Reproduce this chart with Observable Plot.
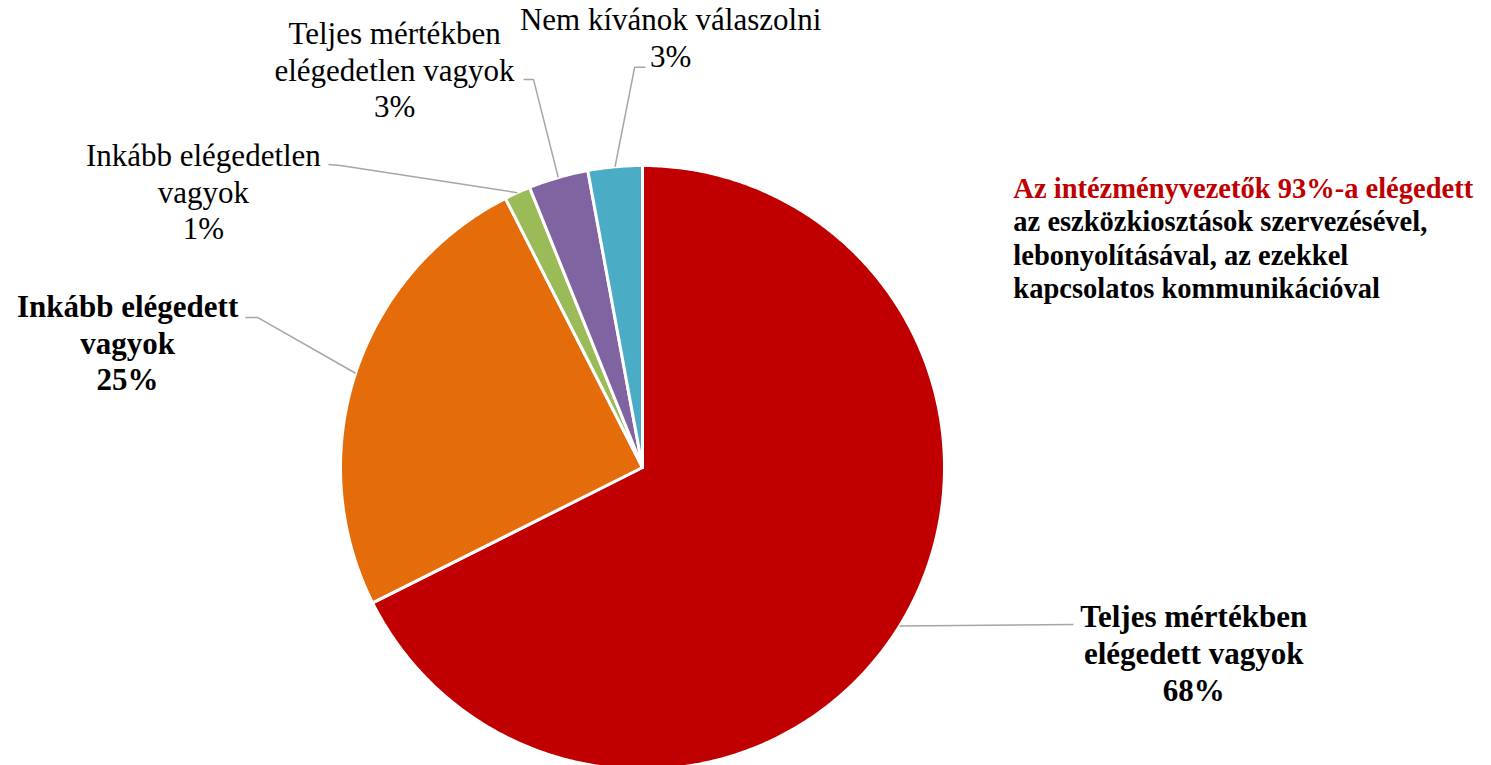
<!DOCTYPE html>
<html><head><meta charset="utf-8">
<script src="https://cdn.jsdelivr.net/npm/d3@7"></script>
<script src="https://cdn.jsdelivr.net/npm/@observablehq/plot@0.6"></script>
<style>
body{margin:0;background:#fff;}
svg text, svg tspan{font-family:"Liberation Serif","Times New Roman","DejaVu Serif",serif !important;}
</style>
</head><body><div id="chart"></div>
<script>
// ---- data ----
const categories = [
  "Teljes mértékben elégedett vagyok",
  "Inkább elégedett vagyok",
  "Inkább elégedetlen vagyok",
  "Teljes mértékben elégedetlen vagyok",
  "Nem kívánok válaszolni"
];
const values = [67.6, 24.9, 1.4, 3.2, 2.9];
const colors = ["#C00000", "#E46C0A", "#9BBB59", "#8064A2", "#4BACC6"];
const labelLines = [
  "Teljes mértékben\nelégedett vagyok",
  "Inkább elégedett\nvagyok",
  "Inkább elégedetlen\nvagyok",
  "Teljes mértékben\nelégedetlen vagyok",
  "Nem kívánok válaszolni"
];
const emphasized = [true, true, false, false, false];
const annotationTitle = "Az intézményvezetők 93%-a elégedett";
const annotationBody = [
  "az eszközkiosztások szervezésével,",
  "lebonyolításával, az ezekkel",
  "kapcsolatos kommunikációval"
];

// ---- layout (in pie-radius units, relative to the pie centre) ----
const W = 1491, H = 765, R = 302, CX = 642, CY = 467;
const labelLayout = [
  {tx: 1.825, ty: -0.772, path: [[1.427, -0.520]]},
  {tx: -1.705, ty: 0.255, path: [[-1.275, 0.497], [-1.315, 0.497]]},
  {tx: -1.454, ty: 0.755, path: [[-1.0, 1.0], [-1.040, 1.003]]},
  {tx: -0.821, ty: 1.159, path: [[-0.361, 1.285], [-0.394, 1.285]]},
  {tx: 0.093, ty: 1.325, path: [[-0.026, 1.325], [0.010, 1.325]]}
];
const annot = {x: 1.228, yTitle: 0.894, yBody: 0.560};

// ---- build geometry through d3.pie ----
const arcs = d3.pie().sort(null).value(d => d)(values);
const slicePts = [];
arcs.forEach((a, i) => {
  const cat = categories[i];
  slicePts.push({x: 0, y: 0, cat});
  const n = Math.max(4, Math.ceil((a.endAngle - a.startAngle) / (Math.PI / 360)));
  for (let k = 0; k <= n; k++) {
    const t = a.startAngle + (a.endAngle - a.startAngle) * k / n;
    slicePts.push({x: Math.sin(t), y: Math.cos(t), cat});
  }
  slicePts.push({x: 0, y: 0, cat});
});

const leaderPts = [];
const labels = [];
arcs.forEach((a, i) => {
  const mid = (a.startAngle + a.endAngle) / 2;
  const cat = categories[i];
  leaderPts.push({x: Math.sin(mid), y: Math.cos(mid), cat});
  labelLayout[i].path.forEach(([x, y]) => leaderPts.push({x, y, cat}));
  labels.push({
    x: labelLayout[i].tx, y: labelLayout[i].ty,
    text: labelLines[i] + "\n" + Math.round(values[i]) + "%",
    bold: emphasized[i]
  });
});

const font = "Liberation Serif";
const labelOpts = {x: "x", y: "y", text: "text", fontSize: 31, lineHeight: 1.19,
  lineAnchor: "bottom", textAnchor: "middle", fill: "black", fontFamily: font};

const chart = Plot.plot({
  width: W, height: H,
  margin: 0,
  style: {fontFamily: font, background: "white"},
  x: {domain: [-CX / R, (W - CX) / R], axis: null},
  y: {domain: [(CY - H) / R, CY / R], axis: null},
  color: {domain: categories, range: colors},
  marks: [
    Plot.line(slicePts, {x: "x", y: "y", z: "cat", fill: "cat", stroke: "white",
      strokeWidth: 3, strokeLinejoin: "round", curve: "linear"}),
    Plot.line(leaderPts, {x: "x", y: "y", z: "cat", stroke: "#A6A6A6",
      strokeWidth: 1.5, strokeLinejoin: "miter", strokeLinecap: "butt"}),
    Plot.text(labels.filter(d => d.bold), {...labelOpts, fontWeight: "bold"}),
    Plot.text(labels.filter(d => !d.bold), {...labelOpts, fontWeight: "normal"}),
    Plot.text([annotationTitle], {x: () => annot.x, y: () => annot.yTitle, text: d => d,
      textAnchor: "start", lineAnchor: "bottom", fontSize: 28.5, fontWeight: "bold",
      fill: "#C00000", fontFamily: font}),
    Plot.text([annotationBody.join("\n")], {x: () => annot.x, y: () => annot.yBody, text: d => d,
      textAnchor: "start", lineAnchor: "bottom", fontSize: 28.5, lineHeight: 1.175,
      fontWeight: "bold", fill: "black", fontFamily: font})
  ]
});
document.getElementById("chart").appendChild(chart);
</script>
</body></html>
